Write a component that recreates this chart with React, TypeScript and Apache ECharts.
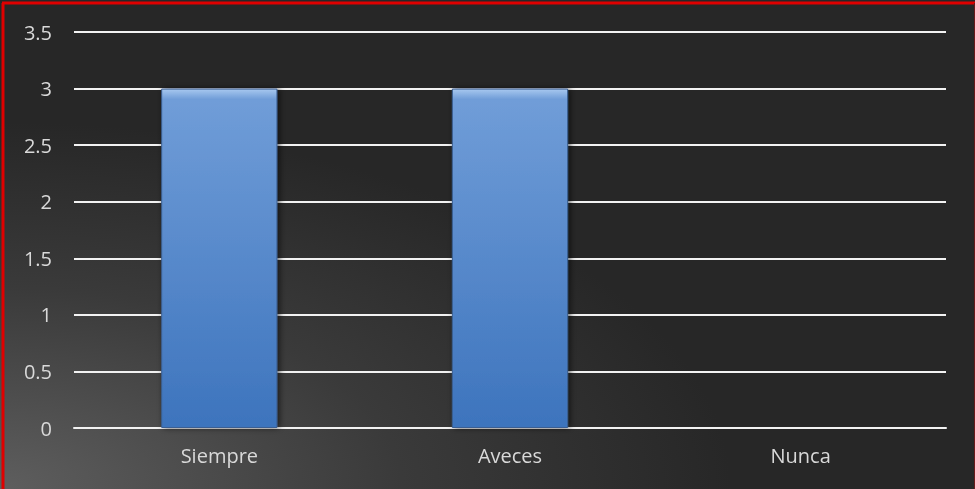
import React, { useEffect, useRef } from "react";
import * as echarts from "echarts";

const categories = ["Siempre", "Aveces", "Nunca"];
const values = [3, 3, 0];
const yTicks = [0, 0.5, 1, 1.5, 2, 2.5, 3, 3.5];

export default function App() {
  const ref = useRef<HTMLDivElement>(null);
  useEffect(() => {
    if (!ref.current) return;
    const chart = echarts.init(ref.current, undefined, { renderer: "svg" });
    chart.setOption({
      animation: false,
      graphic: [
        {
          type: "rect",
          z: -10,
          silent: true,
          shape: { x: 0, y: 0, width: 975, height: 489 },
          style: {
            fill: new echarts.graphic.RadialGradient(0, 1, 0.75, [
              { offset: 0, color: "#5e5e5e" },
              { offset: 0.55, color: "#3a3a3a" },
              { offset: 1, color: "#272727" },
            ]),
          },
        },
        {
          type: "line",
          z: 100,
          silent: true,
          shape: { x1: 3, y1: 3, x2: 3, y2: 489 },
          style: { stroke: "#e00000", lineWidth: 3 },
        },
        {
          type: "line",
          z: 100,
          silent: true,
          shape: { x1: 2, y1: 3, x2: 975, y2: 3 },
          style: { stroke: "#e00000", lineWidth: 3 },
        },
        {
          type: "line",
          z: 100,
          silent: true,
          shape: { x1: 974.5, y1: 3, x2: 974.5, y2: 489 },
          style: { stroke: "#6a1a1a", lineWidth: 1 },
        },
      ],
      grid: { left: 74, right: 29, top: 32, bottom: 61, containLabel: false },
      xAxis: {
        type: "category",
        data: categories,
        axisLine: { show: true, lineStyle: { color: "#f2f2f2", width: 2 } },
        axisTick: { show: false },
        axisLabel: { color: "#d9d9d9", fontSize: 20, fontFamily: "Open Sans", margin: 17 },
      },
      yAxis: {
        type: "value",
        min: yTicks[0],
        max: yTicks[yTicks.length - 1],
        interval: 0.5,
        axisLine: { show: false },
        axisTick: { show: false },
        axisLabel: { color: "#d9d9d9", fontSize: 20, fontFamily: "Open Sans", margin: 22 },
        splitLine: { lineStyle: { color: "#f2f2f2", width: 2 } },
      },
      series: [
        {
          type: "bar",
          data: values,
          barWidth: "40%",
          z: 3,
          itemStyle: {
            color: new echarts.graphic.LinearGradient(0, 0, 0, 1, [
              { offset: 0, color: "#a8c8ef" },
              { offset: 0.03, color: "#709dd8" },
              { offset: 1, color: "#3d74bd" },
            ]),
            borderColor: "#3b5f92",
            borderWidth: 1,
            shadowColor: "rgba(0,0,0,0.6)",
            shadowBlur: 6,
            shadowOffsetX: 2,
          },
        },
      ],
    });
    return () => chart.dispose();
  }, []);
  return (
    <div
      ref={ref}
      style={{ position: "fixed", left: 0, top: 0, width: 975, height: 489 }}
    />
  );
}
